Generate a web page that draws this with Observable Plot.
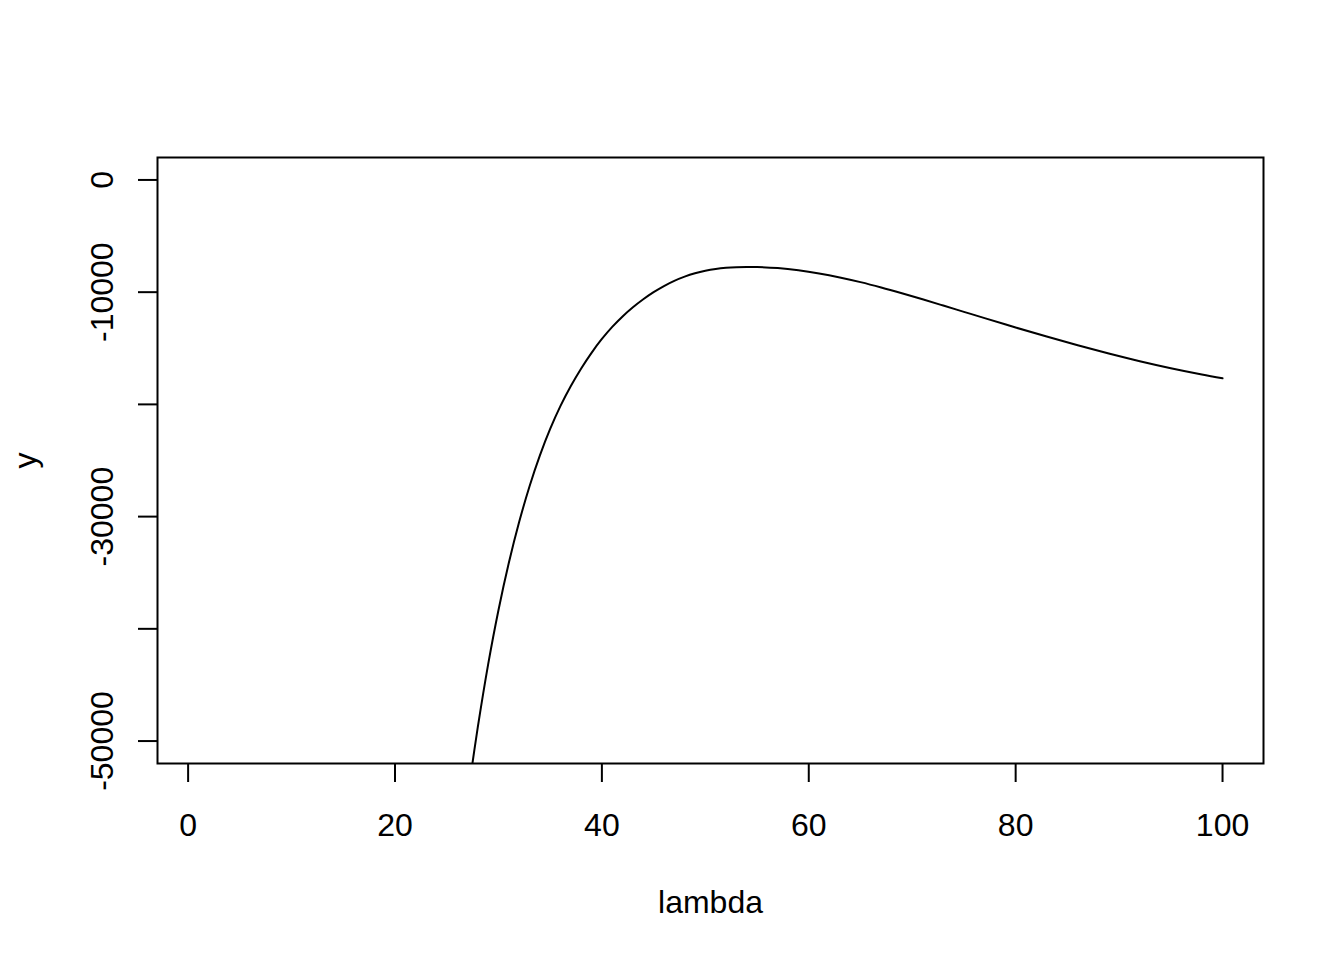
<!DOCTYPE html>
<html>
<head>
<meta charset="utf-8">
<script src="https://cdn.jsdelivr.net/npm/d3@7"></script>
<script src="https://cdn.jsdelivr.net/npm/@observablehq/plot@0.6"></script>
<style>
  html, body { margin: 0; padding: 0; background: #fff; }
  #chart svg { display: block; }
</style>
</head>
<body>
<div id="chart"></div>
<script>
// Curve values (estimated, smoothed by eye)
const lambda = [27, 27.5, 28, 29, 30, 31, 32, 33, 34, 35, 36, 37, 38, 39, 40, 41, 42, 43, 44, 45, 46, 47, 48, 49, 50, 51, 52, 53, 54, 55, 57, 59, 61, 63, 65, 67, 69, 71, 73, 75, 77, 80, 83, 86, 89, 92, 95, 98, 100];
const yValues = [-55238, -51900, -48788, -43188, -38338, -34138, -30488, -27313, -24563, -22188, -20138, -18363, -16798, -15403, -14173, -13098, -12163, -11348, -10633, -10003, -9455, -8995, -8620, -8322, -8097, -7937, -7832, -7772, -7748, -7756, -7856, -8051, -8331, -8686, -9106, -9581, -10096, -10636, -11191, -11753, -12315, -13148, -13958, -14734, -15468, -16151, -16774, -17334, -17673];

const xTicks = [0, 20, 40, 60, 80, 100];
const yTicks = [0, -10000, -20000, -30000, -40000, -50000];
const yLabels = [0, -10000, -30000, -50000];

const data = lambda.map((l, i) => ({lambda: l, y: yValues[i]}));

const FONT = "'Liberation Sans', Arial, Helvetica, sans-serif";

const chart = Plot.plot({
  width: 1344,
  height: 960,
  marginLeft: 157,
  marginRight: 81,
  marginTop: 157,
  marginBottom: 197,
  style: {fontFamily: FONT, fontSize: "32px", background: "#fff", color: "#000"},
  x: {domain: [-2.96, 103.96], axis: null},
  y: {domain: [-52000, 2000], axis: null},
  marks: [
    Plot.line(data, {x: "lambda", y: "y", stroke: "black", strokeWidth: 2, curve: "catmull-rom", clip: true}),
    Plot.frame({stroke: "black", strokeWidth: 2}),
    // x ticks
    Plot.ruleX(xTicks, {x: d => d, y1: -52000, y2: -52000, stroke: "black", strokeWidth: 2, insetBottom: -19}),
    // x tick labels
    Plot.text(xTicks, {x: d => d, frameAnchor: "bottom", dy: 62, lineAnchor: "middle", text: d => String(d), fontSize: 32, fill: "black"}),
    // y ticks
    Plot.ruleY(yTicks, {y: d => d, x1: -2.96, x2: -2.96, stroke: "black", strokeWidth: 2, insetLeft: -19}),
    // y tick labels
    Plot.text(yLabels, {y: d => d, frameAnchor: "left", dx: -55, rotate: -90, lineAnchor: "middle", textAnchor: "middle", text: d => String(d), fontSize: 32, fill: "black"}),
    // axis titles
    Plot.text(["lambda"], {frameAnchor: "bottom", dy: 139, lineAnchor: "middle", text: d => d, fontSize: 32, fill: "black"}),
    Plot.text(["y"], {frameAnchor: "left", dx: -132, rotate: -90, lineAnchor: "middle", textAnchor: "middle", text: d => d, fontSize: 32, fill: "black"})
  ]
});

document.getElementById("chart").appendChild(chart);
</script>
</body>
</html>
